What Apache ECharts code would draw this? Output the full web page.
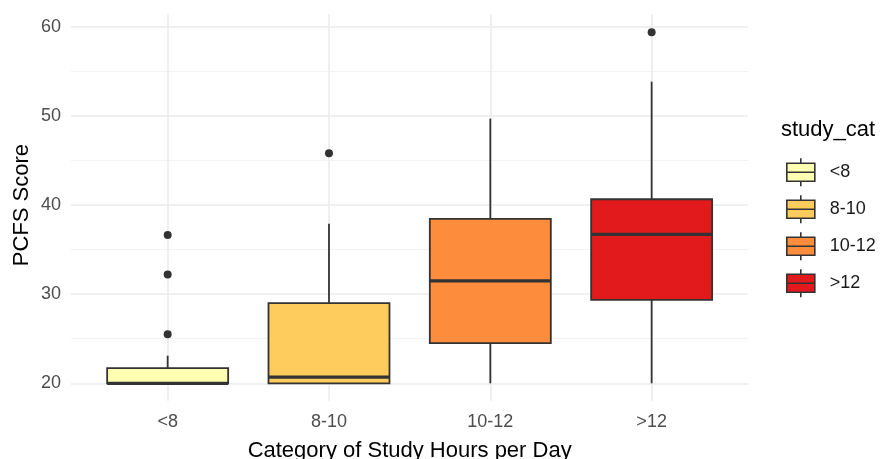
<!DOCTYPE html>
<html>
<head>
<meta charset="utf-8">
<script src="https://cdn.jsdelivr.net/npm/echarts@6/dist/echarts.min.js"></script>
<style>
html,body{margin:0;padding:0;background:#fff;}
#chart{width:881px;height:459px;}
</style>
</head>
<body>
<div id="chart"></div>
<script>
// ---- data ----
const categories = ['<8', '8-10', '10-12', '>12'];
const whiskerLow = [20, 20, 20, 20];
const q1 = [20, 20, 24.5, 29.35];
const median = [20, 20.7, 31.5, 36.7];
const q3 = [21.7, 29.0, 38.45, 40.65];
const whiskerHigh = [23.1, 37.9, 49.7, 53.85];
const outlierCat = [0, 0, 0, 1, 3];
const outlierVal = [25.5, 32.2, 36.65, 45.8, 59.4];
const yTicks = [20, 30, 40, 50, 60];
const fills = ['#FFFFB2', '#FECC5C', '#FD8D3C', '#E31A1C'];

const FONT = 'Liberation Sans, Arial, sans-serif';
const chart = echarts.init(document.getElementById('chart'), null, {renderer: 'canvas'});

const boxRatio = 0.75;
function renderBox(params, api) {
  const x = api.value(0);
  const pLo = api.coord([x, api.value(1)]);
  const pQ1 = api.coord([x, api.value(2)]);
  const pMd = api.coord([x, api.value(3)]);
  const pQ3 = api.coord([x, api.value(4)]);
  const pHi = api.coord([x, api.value(5)]);
  const bw = api.size([1, 0])[0] * boxRatio;
  const cx = pMd[0];
  const stroke = '#333333';
  return {
    type: 'group',
    children: [
      {type: 'line', shape: {x1: cx, y1: pHi[1], x2: cx, y2: pQ3[1]}, style: {stroke: stroke, lineWidth: 1.8}},
      {type: 'line', shape: {x1: cx, y1: pQ1[1], x2: cx, y2: pLo[1]}, style: {stroke: stroke, lineWidth: 1.8}},
      {type: 'rect', shape: {x: cx - bw / 2, y: pQ3[1], width: bw, height: pQ1[1] - pQ3[1]},
        style: {fill: api.visual('color'), stroke: stroke, lineWidth: 1.8}},
      {type: 'line', shape: {x1: cx - bw / 2, y1: pMd[1], x2: cx + bw / 2, y2: pMd[1]}, style: {stroke: stroke, lineWidth: 3.2}}
    ]
  };
}

const boxSeries = categories.map(function (c, i) {
  return {
    name: c,
    type: 'custom',
    xAxisIndex: 1,
    yAxisIndex: 1,
    itemStyle: {color: fills[i]},
    encode: {x: 0, y: [1, 2, 3, 4, 5]},
    renderItem: renderBox,
    data: [[i, whiskerLow[i], q1[i], median[i], q3[i], whiskerHigh[i]]],
    z: 3
  };
});

const outlierData = outlierCat.map(function (c, i) { return [c, outlierVal[i]]; });

const iconPath = 'path://M0,5 L28,5 L28,23 L0,23 Z M0,14 L28,14 M14,0 L14,5 M14,23 L14,28';

const option = {
  animation: false,
  backgroundColor: '#ffffff',
  textStyle: {fontFamily: FONT},
  title: {
    text: 'study_cat',
    left: 781, top: 119, padding: 0,
    textStyle: {fontFamily: FONT, fontSize: 22, fontWeight: 'normal', color: '#000000'}
  },
  legend: {
    orient: 'vertical',
    left: 786, top: 157.5,
    padding: 0,
    itemWidth: 28, itemHeight: 28,
    itemGap: 7.4,
    selectedMode: false,
    textStyle: {fontFamily: FONT, fontSize: 18, color: '#1a1a1a', padding: [0, 0, 0, 10]},
    data: categories.map(function (c, i) {
      return {name: c, icon: iconPath,
        itemStyle: {color: fills[i], borderColor: '#333333', borderWidth: 1.6}};
    })
  },
  grid: [
    {left: 71, right: 881 - 748.3, top: 26.8, bottom: 459 - 383.3, containLabel: false, outerBoundsMode: 'none'},
    {left: 87, right: 881 - 732.3, top: 26.8, bottom: 459 - 383.3, containLabel: false, outerBoundsMode: 'none'}
  ],
  xAxis: [
    {gridIndex: 0, type: 'value', min: 0, max: 1, show: false},
    {
      gridIndex: 1, type: 'category', data: categories, boundaryGap: true,
      offset: 17.5,
      axisLine: {show: false},
      axisTick: {show: true, inside: true, alignWithLabel: true, length: 386.5,
        lineStyle: {color: '#ebebeb', width: 1.6}},
      axisLabel: {fontFamily: FONT, fontSize: 18, color: '#4d4d4d', margin: 12},
      splitLine: {show: false},
      name: 'Category of Study Hours per Day',
      nameLocation: 'middle', nameGap: 39,
      nameTextStyle: {fontFamily: FONT, fontSize: 22, color: '#000000'}
    }
  ],
  yAxis: [
    {
      gridIndex: 0, type: 'value', min: yTicks[0], max: yTicks[yTicks.length - 1], interval: 10,
      axisLine: {show: false}, axisTick: {show: false},
      axisLabel: {fontFamily: FONT, fontSize: 18, color: '#4d4d4d', margin: 10},
      splitLine: {show: true, lineStyle: {color: '#ebebeb', width: 1.6}},
      minorTick: {show: false, splitNumber: 2},
      minorSplitLine: {show: true, lineStyle: {color: '#f3f3f3', width: 1.2}},
      name: 'PCFS Score', nameLocation: 'middle', nameRotate: 90, nameGap: 38,
      nameMoveOverlap: false,
      nameTextStyle: {fontFamily: FONT, fontSize: 22, color: '#000000'}
    },
    {gridIndex: 1, type: 'value', min: yTicks[0], max: yTicks[yTicks.length - 1], show: false}
  ],
  series: boxSeries.concat([{
    name: 'outliers',
    type: 'scatter',
    xAxisIndex: 1, yAxisIndex: 1,
    symbol: 'circle', symbolSize: 8,
    itemStyle: {color: '#333333', opacity: 1},
    data: outlierData,
    z: 4
  }])
};
chart.setOption(option);
</script>
</body>
</html>
